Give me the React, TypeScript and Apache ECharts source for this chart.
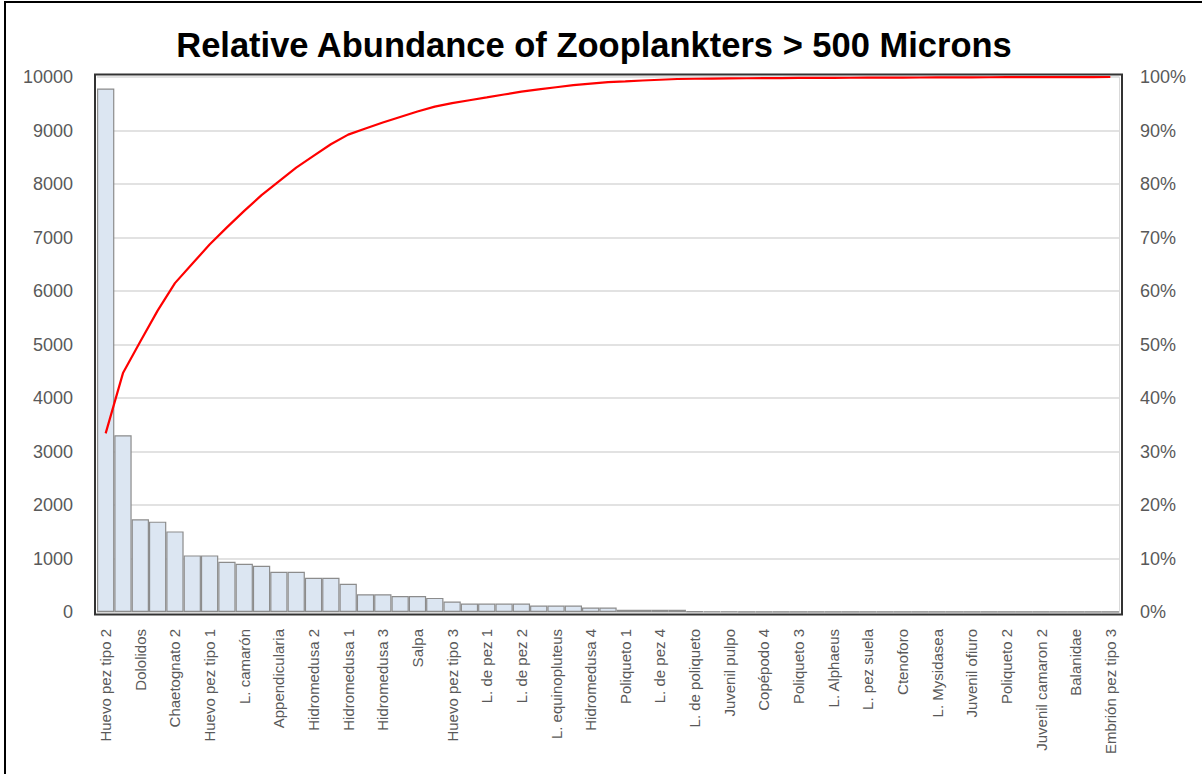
import React, { useEffect, useRef } from "react";
import * as echarts from "echarts";

const categories: string[] = [
  "Huevo pez tipo 2", "Copépodo 1", "Dololidos", "Copépodo 2", "Chaetognato 2",
  "Chaetognato 1", "Huevo pez tipo 1", "Copépodo 3", "L. camarón", "Sifonóforo",
  "Appendicularia", "L. de pez 3", "Hidromedusa 2", "Ostrácodo", "Hidromedusa 1",
  "Anfípodo", "Hidromedusa 3", "Eufáusido", "Salpa", "L. de cangrejo",
  "Huevo pez tipo 3", "Poliqueto 4", "L. de pez 1", "Misidáceo", "L. de pez 2",
  "L. de estomatópodo", "L. equinopluteus", "Pterópodo", "Hidromedusa 4", "L. de bivalvo",
  "Poliqueto 1", "L. de gasterópodo", "L. de pez 4", "Juvenil camaron 1", "L. de poliqueto",
  "Isópodo", "Juvenil pulpo", "Cumáceo", "Copépodo 4", "L. de pez 5",
  "Poliqueto 3", "Heterópodo", "L. Alphaeus", "L. Porcellana", "L. pez suela",
  "Chaetognato 3", "Ctenoforo", "Huevo pez tipo 4", "L. Mysidasea", "L. Lucifer",
  "Juvenil ofiuro", "L. de pez 6", "Poliqueto 2", "Cladócero", "Juvenil camaron 2",
  "Hidromedusa 5", "Balanidae", "L. cifonautas", "Embrión pez tipo 3",
];

const abundance: number[] = [
  9785, 3305, 1732, 1689, 1507, 1058, 1058, 940, 903, 865,
  753, 753, 640, 640, 528, 333, 333, 300, 300, 264,
  195, 157, 157, 157, 157, 120, 120, 120, 83, 83,
  42, 42, 42, 42, 12, 10, 10, 8, 6, 5,
  5, 5, 4, 4, 4, 4, 3, 3, 3, 3,
  3, 3, 2, 2, 2, 2, 2, 2, 2,
];

const leftTicks = { min: 0, max: 10000, interval: 1000 };
const rightTicks = { min: 0, max: 100, interval: 10 };

const titleText = "Relative Abundance of Zooplankters > 500 Microns";

export default function App() {
  const ref = useRef<HTMLDivElement>(null);

  useEffect(() => {
    if (!ref.current) return;
    const chart = echarts.init(ref.current, undefined, { renderer: "svg" });
    const total = abundance.reduce((a, b) => a + b, 0);
    let run = 0;
    const cumulative = abundance.map((v) => {
      run += v;
      return +((run / total) * 100).toFixed(3);
    });

    const font = "'Liberation Sans', Arial, sans-serif";

    chart.setOption({
      animation: false,
      backgroundColor: "#ffffff",
      grid: { left: 97, right: 83, top: 77, bottom: 162, containLabel: false },
      graphic: [
        {
          type: "rect",
          shape: { x: 5, y: 2, width: 1215, height: 800 },
          style: { fill: "none", stroke: "#000000", lineWidth: 2 },
          silent: true,
        },
        {
          type: "rect",
          shape: { x: 95, y: 74.5, width: 1027, height: 540 },
          style: { fill: "none", stroke: "#333333", lineWidth: 2 },
          silent: true,
          z: 100,
        },
        {
          type: "text",
          x: 594,
          y: 45,
          style: {
            text: titleText,
            fontFamily: font,
            fontSize: 34.5,
            fontWeight: "bold",
            fill: "#000000",
            textAlign: "center",
            textVerticalAlign: "middle",
          },
        },
      ],
      xAxis: {
        type: "category",
        data: categories,
        boundaryGap: true,
        axisLine: { show: true, lineStyle: { color: "#d9d9d9", width: 1 } },
        axisTick: { show: false },
        axisLabel: {
          interval: 1,
          rotate: 90,
          margin: 17,
          color: "#595959",
          fontFamily: font,
          fontSize: 15,
        },
        splitLine: { show: false },
      },
      yAxis: [
        {
          type: "value",
          min: leftTicks.min,
          max: leftTicks.max,
          interval: leftTicks.interval,
          axisLine: { show: false },
          axisTick: { show: false },
          axisLabel: {
            color: "#595959",
            fontFamily: font,
            fontSize: 18,
            margin: 24,
            formatter: (v: number) => `${v}`,
          },
          splitLine: { show: true, lineStyle: { color: "#d9d9d9", width: 1.5 } },
        },
        {
          type: "value",
          min: rightTicks.min,
          max: rightTicks.max,
          interval: rightTicks.interval,
          axisLine: { show: true, lineStyle: { color: "#d9d9d9", width: 1 } },
          axisTick: { show: false },
          axisLabel: {
            color: "#595959",
            fontFamily: font,
            fontSize: 18,
            margin: 21,
            formatter: (v: number) => `${v}%`,
          },
          splitLine: { show: false },
        },
      ],
      series: [
        {
          type: "bar",
          data: abundance,
          yAxisIndex: 0,
          barCategoryGap: "0%",
          itemStyle: { color: "#dce6f2", borderColor: "#8c8c8c", borderWidth: 1.2 },
        },
        {
          type: "line",
          data: cumulative,
          yAxisIndex: 1,
          symbol: "none",
          showSymbol: false,
          lineStyle: { color: "#ff0000", width: 2.2 },
          z: 5,
        },
      ],
    });

    return () => chart.dispose();
  }, []);

  return (
    <div
      ref={ref}
      style={{ position: "absolute", left: 0, top: 0, width: 1202, height: 774 }}
    />
  );
}
